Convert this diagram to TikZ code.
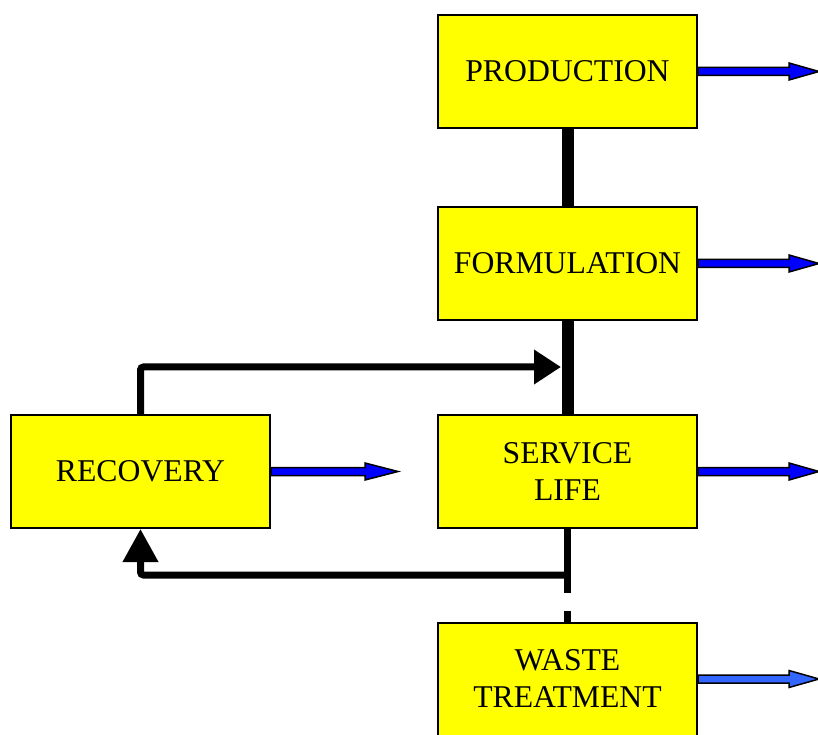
\documentclass[tikz,border=0pt]{standalone}
\usepackage{fontspec}
\setmainfont{Liberation Serif}
\usetikzlibrary{arrows.meta,calc}
\definecolor{boxyellow}{HTML}{FFFF00}
\definecolor{flowblue}{HTML}{0000FF}
\definecolor{wasteblue}{HTML}{3366FF}
\tikzset{
 box/.style={draw=black, line width=2pt, fill=boxyellow, minimum width=259pt, minimum height=113pt, inner sep=0pt, align=center, font=\fontsize{31.7}{37}\selectfont},
 trunk/.style={line width=12pt},
 loopline/.style={line width=7pt, rounded corners=3pt},
 outflow/.style={draw=black, line width=1.5pt, line join=miter},
}
\newcommand\outarrow[4]{% node, colour, length, head length
 \draw[outflow, fill=#2] ($(#1.east)+(0,4)$) -- ++(#3-#4,0) -- ++(0,4.5) -- ++(#4,-8.5) -- ++(-#4,-8.5) -- ++(0,4.5) -- ++(-#3+#4,0) -- cycle;}
\begin{document}
\begin{tikzpicture}[x=1pt,y=1pt]
\useasboundingbox (0,0) rectangle (818,734);
\fill[white] (0,0) rectangle (818,734);
\node[box] (prod) at (567.5,662.5) {PRODUCTION};
\node[box] (form) at (567.5,470.5) {FORMULATION};
\node[box] (serv) at (567.5,262.5) {SERVICE\\LIFE};
\node[box] (waste) at (567.5,55) {WASTE\\TREATMENT};
\node[box] (rec) at (140.5,262.5) {RECOVERY};
\draw[trunk] (prod.south) -- (form.north);
\draw[trunk] (form.south) -- (serv.north);
\coordinate (feed) at (561,367);
\coordinate (junc) at (567.5,159);
\draw[loopline, -{Triangle[length=27pt,width=33pt]}] (rec.north) |- (feed);
\draw[line width=7pt] (serv.south) -- ([yshift=-18pt]junc);
\draw[line width=7pt, dash pattern=on 18pt off 18pt] (junc) -- (waste.north);
\draw[loopline, -{Triangle[length=33pt,width=34pt]}] (junc) -| (rec.south);
\outarrow{prod}{flowblue}{121}{30}
\outarrow{form}{flowblue}{121}{30}
\outarrow{serv}{flowblue}{121}{30}
\outarrow{waste}{wasteblue}{121}{30}
\outarrow{rec}{flowblue}{127}{33}
\end{tikzpicture}
\end{document}
